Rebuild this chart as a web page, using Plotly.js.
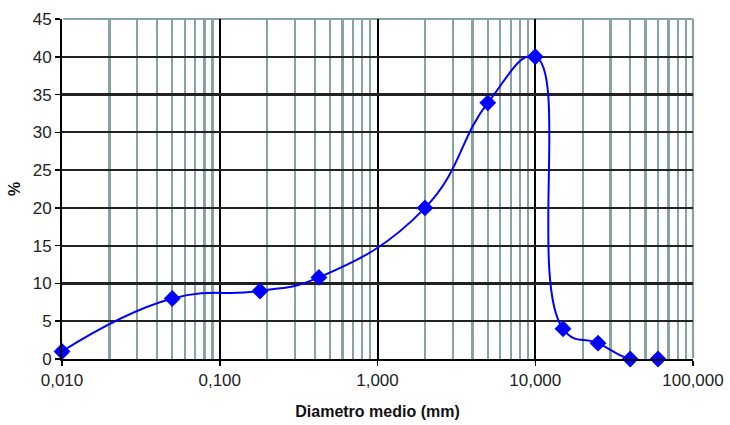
<!DOCTYPE html>
<html><head><meta charset="utf-8">
<script src="https://cdn.plot.ly/plotly-3.0.1.min.js"></script>
<style>html,body{margin:0;padding:0;background:#fff}#chart{width:730px;height:425px}</style>
</head><body><div id="chart"></div>
<script>
const diametro = [0.01, 0.05, 0.18, 0.425, 2, 5, 10, 15, 25, 40, 60];
const percent  = [1, 8, 9, 10.8, 20, 33.9, 40, 4, 2.1, 0, 0];
const xTickVals = [0.01, 0.1, 1, 10, 100];
const xTickText = ["0,010", "0,100", "1,000", "10,000", "100,000"];
const yTickVals = [0, 5, 10, 15, 20, 25, 30, 35, 40, 45];

const minorVals = [];
for (let e = -2; e < 2; e++) for (let m = 2; m <= 9; m++) minorVals.push(m * Math.pow(10, e));

const teal = '#87a3a3';
const font = {family: 'Liberation Sans, Arial, sans-serif', size: 17, color: '#222'};
const titleFont = {family: 'Liberation Sans, Arial, sans-serif', size: 16, color: '#111'};

Plotly.newPlot('chart', [{
  x: diametro, y: percent, type: 'scatter', mode: 'lines+markers',
  line: {color: '#0000ff', width: 2, shape: 'spline', smoothing: 1.3},
  marker: {symbol: 'diamond', size: 13, color: '#0000ff'},
  cliponaxis: false, hoverinfo: 'skip'
}], {
  width: 730, height: 425,
  margin: {l: 62, r: 37, t: 19, b: 66},
  paper_bgcolor: '#fff', plot_bgcolor: '#fff',
  showlegend: false, font: font,
  xaxis: {
    type: 'log', range: [-2, 2], tickmode: 'array', tickvals: xTickVals, ticktext: xTickText,
    showgrid: true, gridcolor: '#000', gridwidth: 2,
    minor: {tickmode: 'array', tickvals: minorVals, showgrid: true, gridcolor: teal, gridwidth: 2.2, ticks: ''},
    showline: true, linecolor: '#000', linewidth: 2,
    ticks: 'outside', ticklen: 5, tickcolor: '#000', tickwidth: 1.5,
    zeroline: false, tickfont: font, automargin: false,
    title: {text: '<b>Diametro medio (mm)</b>', font: titleFont, standoff: 16}
  },
  yaxis: {
    range: [0, 45], tickmode: 'array', tickvals: yTickVals,
    showgrid: true, gridcolor: '#222', gridwidth: 2.2,
    showline: true, linecolor: '#000', linewidth: 2,
    ticks: 'outside', ticklen: 5, tickcolor: '#000', tickwidth: 1.5,
    zeroline: false, tickfont: font, automargin: false,
    title: {text: '<b>%</b>', font: titleFont, standoff: 8}
  },
  shapes: [
    {type: 'line', xref: 'paper', yref: 'paper', x0: 0.002, x1: 1, y0: 1, y1: 1, line: {color: teal, width: 2.2}, layer: 'below'},
    {type: 'line', xref: 'paper', yref: 'paper', x0: 1, x1: 1, y0: 0.003, y1: 1, line: {color: teal, width: 2.2}, layer: 'below'}
  ]
}, {displayModeBar: false, staticPlot: true});
</script></body></html>
